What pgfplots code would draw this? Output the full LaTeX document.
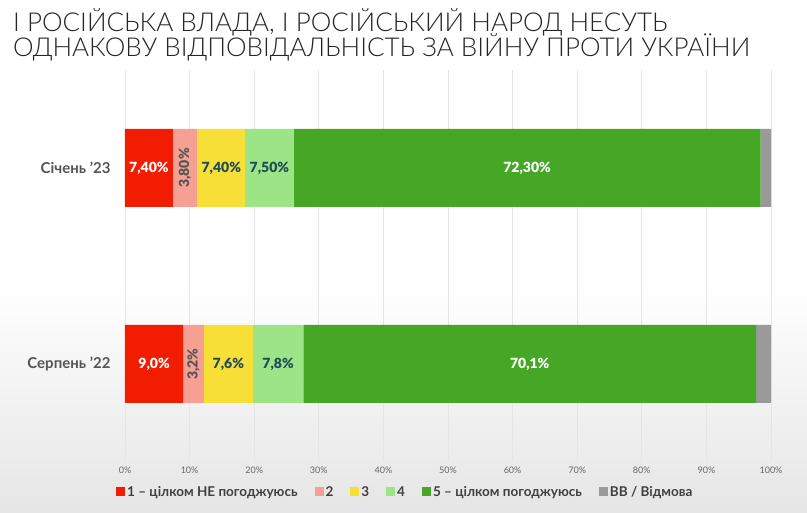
\documentclass[border=0pt]{standalone}
\usepackage{pgfplots}
\pgfplotsset{compat=1.18}
\usepackage{fontspec}
\setmainfont{Lato}
\newfontfamily\titlefont{Lato Light}
\newfontfamily\heavyfont{Lato Black}
\definecolor{cA}{HTML}{F21C00}
\definecolor{cB}{HTML}{F5A093}
\definecolor{cC}{HTML}{F7DF38}
\definecolor{cD}{HTML}{9DE486}
\definecolor{cE}{HTML}{45A725}
\definecolor{cF}{HTML}{9A9A9A}
\definecolor{tealtx}{HTML}{1E4B5A}
\definecolor{graytx}{HTML}{555555}
\tikzset{vlab/.style={font=\heavyfont\fontsize{14}{16}\selectfont, inner sep=0pt}}
\begin{document}
\begin{tikzpicture}
\useasboundingbox (0,0) rectangle (807pt,513pt);
\fill[white] (0,0) rectangle (807pt,513pt);
\shade[top color=white, bottom color=black!10] (0,0) rectangle (807pt,230pt);
\node[anchor=base west, inner sep=0pt, font=\titlefont\fontsize{26}{30}\selectfont, text=black!85] at (13pt,481pt) {І РОСІЙСЬКА ВЛАДА, І РОСІЙСЬКИЙ НАРОД НЕСУТЬ};
\node[anchor=base west, inner sep=0pt, font=\titlefont\fontsize{26}{30}\selectfont, text=black!85] at (13pt,456pt) {ОДНАКОВУ ВІДПОВІДАЛЬНІСТЬ ЗА ВІЙНУ ПРОТИ УКРАЇНИ};
\begin{axis}[
  at={(125pt,51pt)}, anchor=south west,
  scale only axis, width=646pt, height=392pt,
  xbar stacked, bar width=78pt,
  xmin=0, xmax=100, ymin=-0.5, ymax=1.5,
  ytick={0,1}, yticklabels={Серпень ’22, Січень ’23},
  xtick={0,10,...,100},
  xticklabels={0\%,10\%,20\%,30\%,40\%,50\%,60\%,70\%,80\%,90\%,100\%},
  axis line style={draw=none},
  major tick length=0pt,
  xmajorgrids, grid style={black!10, line width=0.7pt},
  xticklabel style={font=\fontsize{9}{10}\selectfont, text=black!60, yshift=-1pt},
  yticklabel style={font=\bfseries\fontsize{15}{17}\selectfont, text=graytx, xshift=-11pt},
  legend image code/.code={\fill[#1] (0pt,-4.5pt) rectangle (9pt,4.5pt);},
  legend columns=6,
  legend style={draw=none, fill=none, inner sep=0pt, at={(0,0)}, anchor=north west, xshift=-9pt, yshift=-22pt,
    font=\bfseries\fontsize{13.5}{15}\selectfont, text=black!75,
    /tikz/every even column/.append style={column sep=15pt}},
]
\addplot[fill=cA, draw=none] coordinates {(9.0,0) (7.4,1)};
\addplot[fill=cB, draw=none] coordinates {(3.2,0) (3.8,1)};
\addplot[fill=cC, draw=none] coordinates {(7.6,0) (7.4,1)};
\addplot[fill=cD, draw=none] coordinates {(7.8,0) (7.5,1)};
\addplot[fill=cE, draw=none] coordinates {(70.1,0) (72.3,1)};
\addplot[fill=cF, draw=none] coordinates {(2.3,0) (1.6,1)};
\legend{1 – цілком НЕ погоджуюсь, 2, 3, 4, 5 – цілком погоджуюсь, ВВ / Відмова}
\coordinate (a1) at (axis cs:3.7,1);
\coordinate (a2) at (axis cs:9.3,1);
\coordinate (a3) at (axis cs:14.9,1);
\coordinate (a4) at (axis cs:22.35,1);
\coordinate (a5) at (axis cs:62.25,1);
\coordinate (b1) at (axis cs:4.5,0);
\coordinate (b2) at (axis cs:10.6,0);
\coordinate (b3) at (axis cs:16.0,0);
\coordinate (b4) at (axis cs:23.7,0);
\coordinate (b5) at (axis cs:62.65,0);
\end{axis}
\node[vlab, text=white] at (a1) {7,40\%};
\node[vlab, text=graytx, rotate=90] at (a2) {3,80\%};
\node[vlab, text=tealtx] at (a3) {7,40\%};
\node[vlab, text=tealtx] at (a4) {7,50\%};
\node[vlab, text=white] at (a5) {72,30\%};
\node[vlab, text=white] at (b1) {9,0\%};
\node[vlab, text=graytx, rotate=90] at (b2) {3,2\%};
\node[vlab, text=tealtx] at (b3) {7,6\%};
\node[vlab, text=tealtx] at (b4) {7,8\%};
\node[vlab, text=white] at (b5) {70,1\%};
\end{tikzpicture}
\end{document}
